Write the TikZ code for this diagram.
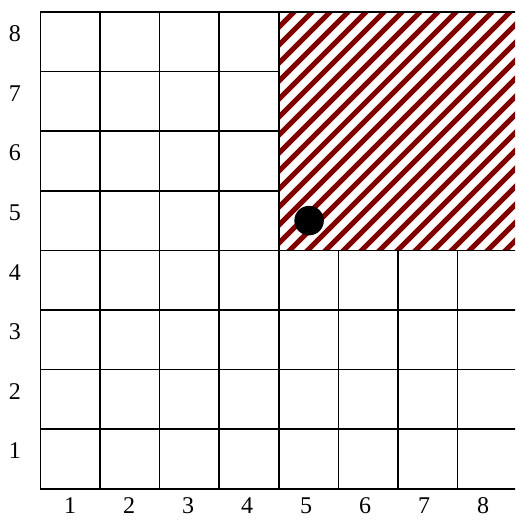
\documentclass[tikz,border=0pt]{standalone}
\usepackage{fontspec}
\setmainfont{Liberation Serif}
\definecolor{hatchred}{HTML}{800000}
\tikzset{
  gridline/.style={line width=1.6pt, draw=black},
  lbl/.style={font=\fontsize{24}{24}\selectfont, inner sep=0pt, anchor=center},
  hatchline/.style={line width=5.2pt, draw=hatchred},
  dot/.style={circle, fill=black, minimum size=29.5pt, inner sep=0pt}
}
\begin{document}
\begin{tikzpicture}[x=1pt,y=-1pt]
\useasboundingbox (0,0) rectangle (515,521);
\clip (0,0) rectangle (515,521);
\def\L{40.3}\def\T{12}\def\C{59.6}
% hatched region
\begin{scope}
  \clip (279.3,12) rectangle (517.1,250.4);
  \fill[white] (279.3,12) rectangle (517.1,250.4);
  \foreach \c in {270,288,...,800} {
    \draw[hatchline] (\c-270,270) -- (\c,0);
  }
\end{scope}
% grid lines
\foreach \i in {0,...,4} {
  \draw[gridline] ({\L+\i*\C},\T) -- ({\L+\i*\C},{\T+8*\C});
}
\foreach \i in {5,...,8} {
  \draw[gridline] ({\L+\i*\C},{\T+4*\C}) -- ({\L+\i*\C},{\T+8*\C});
}
\foreach \j in {1,2,3} {
  \draw[gridline] (\L,{\T+\j*\C}) -- ({\L+4*\C},{\T+\j*\C});
}
\foreach \j in {4,...,8} {
  \draw[gridline] (\L,{\T+\j*\C}) -- ({\L+8*\C},{\T+\j*\C});
}
\draw[gridline] (\L,\T) -- ({\L+8*\C},\T);
% dot
\node[dot] (d) at (309.1,220.6) {};
% labels
\foreach \k in {1,...,8} {
  \node[lbl] (x\k) at ({70+(\k-1)*59},506) {\k};
  \node[lbl] (y\k) at (15,{451-(\k-1)*59.6}) {\k};
}
\end{tikzpicture}
\end{document}
